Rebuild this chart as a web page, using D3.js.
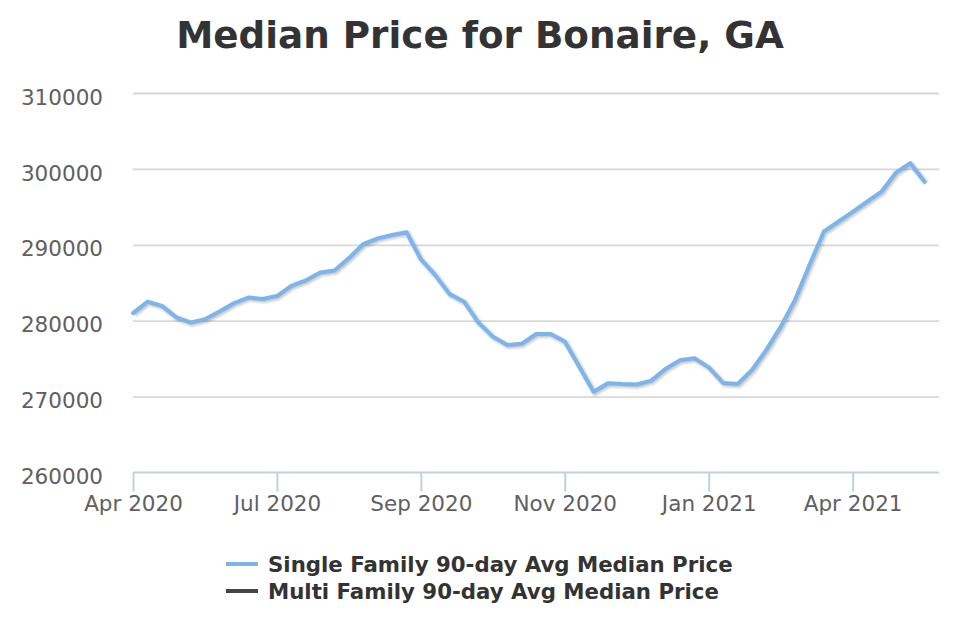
<!DOCTYPE html>
<html lang="en">
<head>
    <meta charset="UTF-8">
    <script src="https://d3js.org/d3.v7.min.js"></script>
    <title>Median Price for Bonaire, GA</title>
    <style>
        body { margin: 0; background: #fff; }
        text { font-family: "DejaVu Sans", sans-serif; }
    </style>
</head>
<body>
    <script>
        // weekly 90-day avg median price, single family
        var singleFamily = [
            281000, 282500, 281950, 280450, 279750, 280200, 281200, 282300, 283050, 282850,
            283250, 284600, 285300, 286350, 286600, 288250, 290100, 290850, 291300, 291650,
            288100, 286000, 283500, 282500, 279750, 277900, 276800, 276950, 278250, 278250,
            277250, 273950, 270650, 271750, 271650, 271600, 272100, 273650, 274800, 275050,
            273850, 271800, 271650, 273500, 276150, 279200, 282750, 287350, 291750, 293050,
            294350, 295700, 297000, 299500, 300750, 298300
        ];
        var multiFamily = []; // no data in this period
        var tickIndex = [0, 10, 20, 30, 40, 50];
        var tickLabels = ['Apr 2020', 'Jul 2020', 'Sep 2020', 'Nov 2020', 'Jan 2021', 'Apr 2021'];
        var yTicks = [260000, 270000, 280000, 290000, 300000, 310000];
        var seriesNames = ['Single Family 90-day Avg Median Price', 'Multi Family 90-day Avg Median Price'];
        var seriesColors = ['#7cb5ec', '#434348'];

        var width = 960, height = 640;
        var plotLeft = 133, plotRight = 939, plotTop = 93, plotBottom = 472.5;

        var svg = d3.select('body')
                    .append('svg')
                    .attr('width', width)
                    .attr('height', height);

        var x = d3.scaleLinear().domain([0, 56]).range([plotLeft, plotRight]);
        var y = d3.scaleLinear().domain([260000, 310000]).range([plotBottom, plotTop]);

        // title
        svg.append('text')
            .attr('x', 480)
            .attr('y', 48)
            .attr('text-anchor', 'middle')
            .style('font-size', '37.3px')
            .style('font-weight', 'bold')
            .style('fill', '#333333')
            .text('Median Price for Bonaire, GA');

        // y axis + gridlines
        var yAxis = svg.append('g')
            .attr('transform', 'translate(' + plotLeft + ',0)')
            .call(d3.axisLeft(y).tickValues(yTicks).tickSize(-(plotRight - plotLeft)).tickPadding(30).tickFormat(d3.format('d')));
        yAxis.select('.domain').remove();
        yAxis.selectAll('line').attr('stroke', '#d8d8d8').attr('stroke-width', 1.8);
        yAxis.selectAll('text')
            .attr('dy', '0.52em')
            .style('font-size', '21.5px')
            .style('fill', '#606060')
            .style('font-family', '"DejaVu Sans", sans-serif');
        yAxis.selectAll('.tick').filter(function(d) { return d === 260000; }).select('line').remove();

        // x axis
        var xAxis = svg.append('g')
            .attr('transform', 'translate(0,' + plotBottom + ')')
            .call(d3.axisBottom(x).tickValues(tickIndex).tickSize(19).tickPadding(4)
                .tickFormat(function(d, i) { return tickLabels[i]; }));
        xAxis.select('.domain').attr('stroke', '#c0d0e0').attr('stroke-width', 2)
            .attr('d', 'M' + plotLeft + ',0H' + plotRight);
        xAxis.selectAll('line').attr('stroke', '#c0d0e0').attr('stroke-width', 2);
        xAxis.selectAll('text')
            .attr('dy', '0.71em')
            .style('font-size', '21.5px')
            .style('fill', '#606060')
            .style('font-family', '"DejaVu Sans", sans-serif');

        var line = d3.line()
            .x(function(d, i) { return x(i); })
            .y(function(d) { return y(d); });

        // shadow under the line
        var shadow = svg.append('g').attr('transform', 'translate(1.5,1.5)');
        [[8, 0.04], [6, 0.07], [3, 0.1]].forEach(function(s) {
            shadow.append('path')
                .datum(singleFamily)
                .attr('d', line)
                .attr('fill', 'none')
                .attr('stroke', '#000')
                .attr('stroke-opacity', s[1])
                .attr('stroke-width', s[0])
                .attr('stroke-linejoin', 'round');
        });

        svg.append('path')
            .datum(singleFamily)
            .attr('d', line)
            .attr('fill', 'none')
            .attr('stroke', seriesColors[0])
            .attr('stroke-width', 4)
            .attr('stroke-linejoin', 'round')
            .attr('stroke-linecap', 'round');

        if (multiFamily.length) {
            svg.append('path')
                .datum(multiFamily)
                .attr('d', line)
                .attr('fill', 'none')
                .attr('stroke', seriesColors[1])
                .attr('stroke-width', 4);
        }

        // legend
        var legend = svg.append('g').attr('transform', 'translate(226,564)');
        var item = legend.selectAll('g')
            .data(seriesNames)
            .enter()
                .append('g')
                .attr('transform', function(d, i) { return 'translate(0,' + (i * 27) + ')'; });
        item.append('line')
            .attr('x1', 0).attr('x2', 32)
            .attr('y1', 0).attr('y2', 0)
            .attr('stroke', function(d, i) { return seriesColors[i]; })
            .attr('stroke-width', 4);
        item.append('text')
            .attr('x', 42)
            .attr('y', 7.5)
            .style('font-size', '21.3px')
            .style('font-weight', 'bold')
            .style('fill', '#333333')
            .text(function(d) { return d; });
    </script>
</body>
</html>
